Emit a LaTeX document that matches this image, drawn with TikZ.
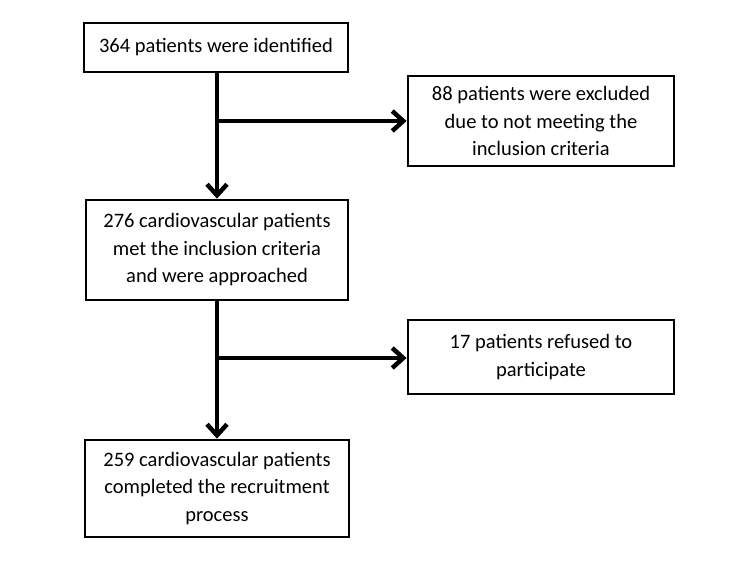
\documentclass[tikz,border=0pt]{standalone}
\usepackage{fontspec}
\setmainfont{Carlito}
\usetikzlibrary{arrows.meta}
\begin{document}
\begin{tikzpicture}[x=1pt,y=-1pt,
  box/.style={draw, line width=2.8pt, align=center, inner sep=0pt, fill=white,
    font=\fontsize{20.5}{27.5}\selectfont},
  conn/.style={line width=4.5pt, -{Straight Barb[length=11pt,width=20pt]}}]
\useasboundingbox (0,0) rectangle (750,568);
\node[box, minimum width=264pt, minimum height=49pt] (b1) at (216,47.5) {364 patients were identified};
\node[box, minimum width=266pt, minimum height=90pt] (b2) at (541,121) {88 patients were excluded\\due to not meeting the\\inclusion criteria};
\node[box, minimum width=262pt, minimum height=100pt] (b3) at (217,250) {276 cardiovascular patients\\met the inclusion criteria\\and were approached};
\node[box, minimum width=266pt, minimum height=74pt] (b4) at (541,357) {17 patients refused to\\participate};
\node[box, minimum width=264pt, minimum height=97pt] (b5) at (217,488.5) {259 cardiovascular patients\\completed the recruitment\\process};
\coordinate (j1) at (217,121);
\coordinate (j2) at (217,358);
\draw[conn] (b1.south -| j1) -- (b3.north -| j1);
\draw[conn] (j1) -- (j1 -| b2.west);
\draw[conn] (b3.south -| j2) -- (b5.north -| j2);
\draw[conn] (j2) -- (j2 -| b4.west);
\end{tikzpicture}
\end{document}
